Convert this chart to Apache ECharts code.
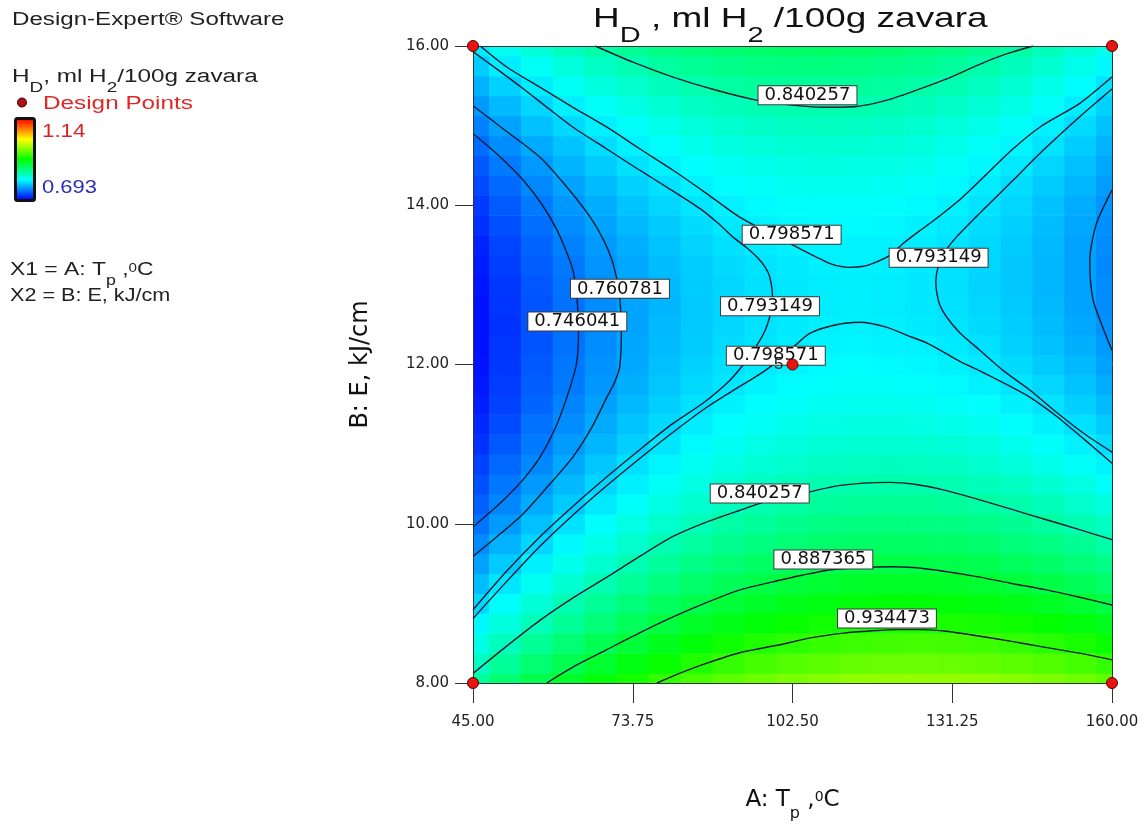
<!DOCTYPE html>
<html>
<head>
<meta charset="utf-8">
<script src="https://cdn.jsdelivr.net/npm/echarts@6/dist/echarts.min.js"></script>
<style>html,body{margin:0;padding:0;background:#fff}#chart{width:1146px;height:827px}</style>
</head>
<body>
<div id="chart"></div>
<script>
// ---------- data ----------
const xValues = [45,50.75,56.5,62.25,68,73.75,79.5,85.25,91,96.75,102.5,108.25,114,119.75,125.5,131.25,137,142.75,148.5,154.25,160];
const yValues = [8,8.25,8.5,8.75,9,9.25,9.5,9.75,10,10.25,10.5,10.75,11,11.25,11.5,11.75,12,12.25,12.5,12.75,13,13.25,13.5,13.75,14,14.25,14.5,14.75,15,15.25,15.5,15.75,16];
// H_D estimated on the grid: one column per xValue, listed from y = 8 up to y = 16
const hdGrid = [
[0.848,0.832,0.816,0.802,0.788,0.776,0.764,0.754,0.744,0.735,0.728,0.721,0.715,0.710,0.706,0.703,0.701,0.700,0.700,0.700,0.702,0.705,0.708,0.713,0.718,0.725,0.732,0.740,0.750,0.760,0.771,0.783,0.796],
[0.866,0.850,0.834,0.820,0.806,0.794,0.782,0.771,0.761,0.752,0.745,0.738,0.732,0.726,0.722,0.719,0.717,0.716,0.715,0.716,0.717,0.720,0.723,0.728,0.733,0.739,0.747,0.755,0.764,0.774,0.785,0.797,0.810],
[0.883,0.867,0.851,0.836,0.823,0.810,0.798,0.787,0.777,0.768,0.760,0.753,0.747,0.742,0.737,0.734,0.732,0.730,0.730,0.730,0.731,0.734,0.737,0.741,0.747,0.753,0.760,0.768,0.777,0.787,0.797,0.809,0.822],
[0.899,0.882,0.866,0.851,0.838,0.825,0.813,0.802,0.792,0.782,0.774,0.767,0.761,0.755,0.751,0.747,0.745,0.743,0.743,0.743,0.744,0.746,0.750,0.754,0.759,0.765,0.772,0.779,0.788,0.798,0.809,0.820,0.833],
[0.913,0.896,0.880,0.865,0.851,0.838,0.826,0.815,0.805,0.795,0.787,0.780,0.773,0.768,0.763,0.759,0.757,0.755,0.754,0.754,0.756,0.758,0.761,0.765,0.769,0.775,0.782,0.790,0.798,0.808,0.819,0.830,0.843],
[0.926,0.909,0.893,0.878,0.864,0.850,0.838,0.827,0.816,0.807,0.798,0.791,0.784,0.779,0.774,0.770,0.767,0.766,0.765,0.765,0.766,0.767,0.770,0.774,0.779,0.785,0.791,0.799,0.807,0.817,0.827,0.839,0.851],
[0.938,0.920,0.904,0.889,0.875,0.861,0.849,0.837,0.827,0.817,0.809,0.801,0.794,0.788,0.784,0.780,0.777,0.775,0.774,0.773,0.774,0.776,0.779,0.782,0.787,0.792,0.799,0.806,0.815,0.824,0.834,0.846,0.858],
[0.948,0.930,0.914,0.899,0.884,0.871,0.858,0.847,0.836,0.826,0.817,0.810,0.803,0.797,0.792,0.788,0.785,0.782,0.781,0.781,0.782,0.783,0.786,0.789,0.794,0.799,0.805,0.813,0.821,0.830,0.840,0.851,0.863],
[0.957,0.939,0.923,0.907,0.893,0.879,0.866,0.854,0.844,0.834,0.825,0.817,0.810,0.804,0.799,0.794,0.791,0.789,0.787,0.787,0.787,0.789,0.791,0.795,0.799,0.804,0.810,0.818,0.826,0.835,0.845,0.856,0.867],
[0.964,0.947,0.930,0.914,0.899,0.886,0.873,0.861,0.850,0.840,0.831,0.823,0.816,0.809,0.804,0.800,0.796,0.794,0.792,0.792,0.792,0.793,0.796,0.799,0.803,0.808,0.814,0.821,0.829,0.838,0.848,0.859,0.870],
[0.970,0.953,0.936,0.920,0.905,0.891,0.878,0.866,0.855,0.845,0.836,0.827,0.820,0.814,0.808,0.804,0.800,0.797,0.796,0.795,0.795,0.796,0.799,0.802,0.806,0.811,0.817,0.823,0.831,0.840,0.850,0.860,0.872],
[0.975,0.957,0.940,0.924,0.909,0.895,0.882,0.870,0.859,0.848,0.839,0.830,0.823,0.816,0.811,0.806,0.803,0.800,0.798,0.797,0.797,0.798,0.800,0.803,0.807,0.812,0.818,0.824,0.832,0.841,0.850,0.861,0.872],
[0.979,0.961,0.943,0.927,0.912,0.898,0.885,0.872,0.861,0.850,0.841,0.832,0.825,0.818,0.812,0.808,0.804,0.801,0.799,0.798,0.798,0.799,0.800,0.803,0.807,0.812,0.817,0.824,0.831,0.840,0.849,0.859,0.871],
[0.981,0.963,0.945,0.929,0.914,0.899,0.886,0.873,0.862,0.851,0.842,0.833,0.825,0.818,0.812,0.807,0.803,0.800,0.798,0.797,0.797,0.798,0.799,0.802,0.806,0.810,0.816,0.822,0.829,0.838,0.847,0.857,0.868],
[0.981,0.963,0.946,0.929,0.914,0.899,0.886,0.873,0.861,0.851,0.841,0.832,0.824,0.817,0.811,0.806,0.802,0.799,0.796,0.795,0.795,0.795,0.797,0.799,0.803,0.807,0.813,0.819,0.826,0.834,0.843,0.853,0.864],
[0.981,0.962,0.945,0.928,0.913,0.898,0.884,0.872,0.860,0.849,0.839,0.830,0.822,0.815,0.808,0.803,0.799,0.796,0.793,0.792,0.791,0.792,0.793,0.795,0.799,0.803,0.808,0.814,0.821,0.829,0.838,0.848,0.859],
[0.979,0.960,0.943,0.926,0.910,0.895,0.882,0.869,0.857,0.846,0.835,0.826,0.818,0.811,0.805,0.799,0.795,0.791,0.789,0.787,0.786,0.787,0.788,0.790,0.793,0.797,0.802,0.808,0.815,0.823,0.832,0.842,0.852],
[0.976,0.957,0.939,0.922,0.906,0.891,0.877,0.864,0.852,0.841,0.831,0.821,0.813,0.806,0.799,0.794,0.789,0.785,0.783,0.781,0.780,0.780,0.782,0.784,0.787,0.790,0.795,0.801,0.808,0.816,0.824,0.834,0.845],
[0.971,0.952,0.934,0.917,0.901,0.886,0.872,0.859,0.846,0.835,0.825,0.815,0.807,0.799,0.793,0.787,0.782,0.778,0.776,0.774,0.773,0.773,0.774,0.776,0.778,0.782,0.787,0.793,0.799,0.807,0.815,0.825,0.835],
[0.965,0.946,0.928,0.911,0.895,0.879,0.865,0.852,0.839,0.828,0.817,0.808,0.799,0.791,0.784,0.779,0.774,0.770,0.767,0.765,0.764,0.764,0.764,0.766,0.769,0.773,0.777,0.783,0.789,0.797,0.805,0.814,0.825],
[0.958,0.939,0.920,0.903,0.887,0.871,0.857,0.843,0.831,0.819,0.808,0.799,0.790,0.782,0.775,0.769,0.764,0.760,0.757,0.755,0.754,0.753,0.754,0.756,0.758,0.762,0.766,0.771,0.778,0.785,0.793,0.802,0.813]
];

// contour lines, [A, B] pairs
const c746041Left  = [[45,14.90],[50,14.60],[54.1,14.31],[57.5,14.0],[60.1,13.69],[61.9,13.4],[63.0,13.18],[63.7,12.85],[64.0,12.43],[63.6,12.0],[61.9,11.59],[59.8,11.2],[57.1,10.84],[54.2,10.57],[51.1,10.34],[48,10.14],[45,9.96]];
const c760781Left  = [[45,15.25],[51,14.93],[57.1,14.60],[62,14.22],[66.1,13.85],[68.6,13.55],[70.2,13.27],[71.3,12.9],[71.7,12.43],[71.4,11.97],[70.5,11.78],[69.1,11.59],[66.3,11.2],[63.0,10.84],[58.6,10.48],[54.1,10.13],[49.5,9.85],[45,9.59]];
const c760781Right = [[160,14.19],[157.2,13.77],[156.0,13.31],[156.6,12.81],[159.0,12.35],[160,12.18]];
const c793149Left  = [[45,15.93],[49.5,15.70],[54.1,15.46],[58.5,15.22],[63,14.98],[69,14.71],[75,14.44],[80.5,14.20],[85.8,13.96],[89,13.78],[91.8,13.60],[94.2,13.47],[96.1,13.35],[97.6,13.22],[98.4,13.10],[98.9,12.85],[98.7,12.72],[98.4,12.6],[97.7,12.45],[96.6,12.30],[94.2,12.05],[91.2,11.80],[86.5,11.52],[81,11.26],[75,10.93],[69.1,10.59],[63,10.22],[57.1,9.84],[51,9.40],[45,8.92]];
const c793149Right = [[160,15.46],[154,15.10],[147.6,14.69],[142,14.30],[136.5,13.92],[132.0,13.60],[130,13.42],[128.7,13.22],[128.3,13.05],[128.4,12.93],[129,12.75],[130.2,12.60],[132.6,12.40],[136.2,12.18],[140.5,11.92],[145.2,11.68],[150,11.40],[155,11.13],[160,10.90]];
const c798571Upper = [[46.3,16],[51,15.74],[57.1,15.48],[63,15.23],[69.1,14.98],[75,14.71],[81,14.44],[87,14.15],[93,13.85],[97.5,13.68],[102,13.52],[106.8,13.35],[109.5,13.26],[112.8,13.22],[115,13.23],[117,13.27],[120,13.37],[122.4,13.52],[125,13.66],[127.2,13.77],[132.6,14.07],[137,14.36],[141.9,14.69],[147,14.98],[154.2,15.28],[160,15.61]];
const c798571Lower = [[45,8.81],[51,9.27],[57.1,9.72],[63,10.11],[69.1,10.48],[75,10.82],[81,11.15],[87,11.46],[91.5,11.66],[94.8,11.80],[97.5,11.92],[100.5,12.08],[103,12.24],[105.6,12.39],[109.8,12.49],[114.6,12.53],[119.4,12.47],[123,12.37],[127,12.26],[132.6,12.04],[136.2,11.92],[141,11.75],[145.2,11.59],[150,11.35],[155,11.06],[160,10.76]];
const c840257Upper = [[67,16],[74,15.79],[81,15.61],[88.5,15.45],[96,15.32],[102,15.26],[108,15.23],[114,15.24],[119,15.31],[124.2,15.43],[130,15.58],[136.2,15.77],[141,15.9],[145.8,16]];
const c840257Lower = [[45,8.12],[51,8.46],[57.1,8.79],[63,9.07],[69.1,9.33],[75,9.59],[81,9.84],[87,10.02],[93.1,10.17],[99,10.31],[105.6,10.40],[110,10.47],[115.2,10.51],[120,10.52],[124.2,10.50],[130,10.42],[136.2,10.30],[142,10.18],[148.2,10.05],[154,9.93],[160,9.80]];
const c887365      = [[58.3,8],[63.5,8.22],[69.1,8.42],[75,8.63],[81,8.83],[87,9.01],[93.1,9.17],[100.2,9.29],[104,9.35],[109.2,9.42],[115,9.45],[120,9.46],[124.2,9.45],[130,9.40],[136.2,9.33],[142,9.25],[148.2,9.17],[154,9.08],[160,8.98]];
const c934473      = [[78.1,8],[82.5,8.13],[87.1,8.25],[93,8.38],[100.2,8.48],[106,8.57],[112.2,8.63],[118,8.66],[121.2,8.67],[126,8.67],[130.2,8.65],[136,8.59],[142.2,8.52],[147,8.46],[151.2,8.41],[156,8.35],[160,8.29]];
const contourLines = [c746041Left,c760781Left,c760781Right,c793149Left,c793149Right,c798571Upper,c798571Lower,c840257Upper,c840257Lower,c887365,c934473];

// contour value labels
const labelText = ['0.840257','0.798571','0.793149','0.760781','0.746041','0.793149','0.798571','0.840257','0.887365','0.934473'];
const labelX    = [105.2,102.35,128.8,71.45,63.77,98.45,99.5,96.6,108.05,119.5];
const labelY    = [15.38,13.63,13.34,12.95,12.54,12.73,12.11,10.38,9.55,8.81];

// design points
const designX     = [45,160,45,160,102.5];
const designY     = [16,16,8,8,12];
const designCount = [1,1,1,1,5];

// axis ticks
const xTicks = [45,73.75,102.5,131.25,160];
const yTicks = [8,10,12,14,16];
const colorMin = 0.693, colorMax = 1.14;

// ---------- chart ----------
const ARIAL = '"Liberation Sans", Arial, Helvetica, sans-serif';
const DEJAVU = '"DejaVu Sans", "Liberation Sans", sans-serif';
const chart = echarts.init(document.getElementById('chart'), null, {renderer: 'canvas'});

const cellData = [];
xValues.forEach((x, i) => yValues.forEach((y, j) => cellData.push([x, y, hdGrid[i][j]])));
const CELL_W = xValues[1] - xValues[0];
const CELL_H = yValues[1] - yValues[0];

function renderCell(params, api) {
  const x = api.value(0), y = api.value(1);
  const p0 = api.coord([x - CELL_W / 2, y + CELL_H / 2]);
  const p1 = api.coord([x + CELL_W / 2, y - CELL_H / 2]);
  const cs = params.coordSys;
  const rect = echarts.graphic.clipRectByRect(
    {x: p0[0], y: p0[1], width: p1[0] - p0[0] + 0.6, height: p1[1] - p0[1] + 0.6},
    {x: cs.x, y: cs.y, width: cs.width, height: cs.height});
  return rect && {type: 'rect', shape: rect, style: {fill: api.visual('color')}};
}

const lineColor = '#121a30';
const series = [{
  type: 'custom', name: 'H_D', data: cellData, renderItem: renderCell,
  encode: {x: 0, y: 1}, z: 1, silent: true
}];
contourLines.forEach(pts => series.push({
  type: 'line', data: pts, smooth: 0.25, symbol: 'none', z: 3, silent: true,
  lineStyle: {color: lineColor, width: 1.4}
}));
series.push({
  type: 'scatter', z: 4, silent: true, symbolSize: 0,
  itemStyle: {opacity: 1},
  data: labelText.map((t, k) => ({name: t, value: [labelX[k], labelY[k]]})),
  label: {
    show: true, position: 'inside', formatter: p => p.name,
    fontFamily: DEJAVU, fontSize: 18, color: '#111', lineHeight: 18,
    backgroundColor: '#ffffff', borderColor: '#3a3a3a', borderWidth: 1, padding: [0, 6, 0, 6]
  },
  emphasis: {disabled: true}
});
series.push({
  type: 'scatter', z: 8, silent: true, clip: false, symbolSize: 11,
  itemStyle: {color: '#e8140f', borderColor: '#5a0000', borderWidth: 1, opacity: 1},
  data: designX.map((x, k) => [x, designY[k]]),
  label: {
    show: true, position: 'left', distance: 3,
    formatter: p => designCount[p.dataIndex] > 1 ? String(designCount[p.dataIndex]) : '',
    fontFamily: ARIAL, fontSize: 17, color: '#222'
  },
  emphasis: {disabled: true}
});

const baseAxisLine = {show: true, lineStyle: {color: '#333', width: 1}};
const option = {
  animation: false,
  backgroundColor: '#fff',
  grid: {left: 473, top: 46, width: 639, height: 637},
  visualMap: {
    type: 'continuous', min: colorMin, max: colorMax, dimension: 2, seriesIndex: 0,
    calculable: false, hoverLink: false, left: 16, top: 119, itemWidth: 18, itemHeight: 81,
    padding: 0, showLabel: false,
    inRange: {color: ['#0000ff', '#00ffff', '#00ff00', '#ffff00', '#ff0000']}
  },
  xAxis: [{
    type: 'value', min: 45, max: 160, z: 6,
    name: '{m|A: T}{s|p}{m| ,}{u|0}{m|C}', nameLocation: 'middle', nameGap: 106,
    nameTextStyle: {rich: {
      m: {fontFamily: DEJAVU, fontSize: 23, color: '#111', lineHeight: 28, verticalAlign: 'top'},
      s: {fontFamily: DEJAVU, fontSize: 16, color: '#111', lineHeight: 16, padding: [17, 0, 0, 0], verticalAlign: 'top'},
      u: {fontFamily: DEJAVU, fontSize: 14, color: '#111', lineHeight: 14, padding: [1, 0, 0, 0], verticalAlign: 'top'}
    }},
    axisLine: baseAxisLine,
    axisTick: {show: true, length: 20, customValues: xTicks, lineStyle: {color: '#333'}},
    axisLabel: {customValues: xTicks, formatter: v => Number(v).toFixed(2), margin: 32,
      fontFamily: DEJAVU, fontSize: 15, color: '#222'},
    splitLine: {show: false}
  }, {
    type: 'value', min: 45, max: 160, position: 'top', z: 6,
    axisLine: baseAxisLine, axisTick: {show: false}, axisLabel: {show: false}, splitLine: {show: false}
  }],
  yAxis: [{
    type: 'value', min: 8, max: 16, interval: 2, z: 6,
    name: 'B: E, kJ/cm', nameLocation: 'middle', nameGap: 100,
    nameTextStyle: {fontFamily: DEJAVU, fontSize: 24, color: '#111'},
    axisLine: baseAxisLine,
    axisTick: {show: true, length: 18, lineStyle: {color: '#333'}},
    axisLabel: {formatter: v => Number(v).toFixed(2), margin: 24, fontFamily: DEJAVU, fontSize: 15, color: '#222'},
    splitLine: {show: false}
  }, {
    type: 'value', min: 8, max: 16, position: 'right', z: 6,
    axisLine: baseAxisLine, axisTick: {show: false}, axisLabel: {show: false}, splitLine: {show: false}
  }],
  graphic: [
    {type: 'text', x: 593, y: 5, scaleX: 1.32, z: 10, style: {
      text: '{m|H}{s|D}{m| , ml H}{s|2}{m| /100g zavara}', fill: '#111', align: 'left', verticalAlign: 'top',
      rich: {
        m: {fontFamily: ARIAL, fontSize: 28, lineHeight: 32, verticalAlign: 'top', fill: '#111'},
        s: {fontFamily: ARIAL, fontSize: 22, lineHeight: 22, padding: [20, 0, 0, 0], verticalAlign: 'top', fill: '#111'}
      }}},
    {type: 'text', x: 12, y: 20, scaleX: 1.34, z: 10, style: {
      text: 'Design-Expert® Software', fontFamily: ARIAL, fontSize: 18, fill: '#222', align: 'left', verticalAlign: 'middle'}},
    {type: 'text', x: 12, y: 68, scaleX: 1.35, z: 10, style: {
      text: '{m|H}{s|D}{m|, ml H}{s|2}{m|/100g zavara}', fill: '#222', align: 'left', verticalAlign: 'top',
      rich: {
        m: {fontFamily: ARIAL, fontSize: 18, lineHeight: 22, verticalAlign: 'top', fill: '#222'},
        s: {fontFamily: ARIAL, fontSize: 14, lineHeight: 14, padding: [13, 0, 0, 0], verticalAlign: 'top', fill: '#222'}
      }}},
    {type: 'circle', z: 10, shape: {cx: 22, cy: 102.5, r: 4.5}, style: {fill: '#b01010', stroke: '#300', lineWidth: 1}},
    {type: 'text', x: 43, y: 104.5, scaleX: 1.35, z: 10, style: {
      text: 'Design Points', fontFamily: ARIAL, fontSize: 18, fill: '#e02828', align: 'left', verticalAlign: 'middle'}},
    {type: 'rect', z: 10, shape: {x: 15.5, y: 118.5, width: 19, height: 82, r: 2},
      style: {fill: 'none', stroke: '#111', lineWidth: 3}},
    {type: 'text', x: 42, y: 132.5, scaleX: 1.24, z: 10, style: {
      text: String(colorMax), fontFamily: ARIAL, fontSize: 18, fill: '#d42525', align: 'left', verticalAlign: 'middle'}},
    {type: 'text', x: 42, y: 188, scaleX: 1.22, z: 10, style: {
      text: String(colorMin), fontFamily: ARIAL, fontSize: 18, fill: '#2b2bb8', align: 'left', verticalAlign: 'middle'}},
    {type: 'text', x: 10, y: 261, scaleX: 1.27, z: 10, style: {
      text: '{m|X1 = A: T}{s|p}{m| ,}{u|0}{m|C}', fill: '#222', align: 'left', verticalAlign: 'top',
      rich: {
        m: {fontFamily: ARIAL, fontSize: 18, lineHeight: 22, verticalAlign: 'top', fill: '#222'},
        s: {fontFamily: ARIAL, fontSize: 14, lineHeight: 14, padding: [13, 0, 0, 0], verticalAlign: 'top', fill: '#222'},
        u: {fontFamily: ARIAL, fontSize: 12, lineHeight: 12, padding: [2, 0, 0, 0], verticalAlign: 'top', fill: '#222'}
      }}},
    {type: 'text', x: 10, y: 285, scaleX: 1.2, z: 10, style: {
      text: 'X2 = B: E, kJ/cm', fontFamily: ARIAL, fontSize: 18, fill: '#222', align: 'left', verticalAlign: 'top', lineHeight: 22}}
  ],
  series: series
};
chart.setOption(option);
</script>
</body>
</html>
